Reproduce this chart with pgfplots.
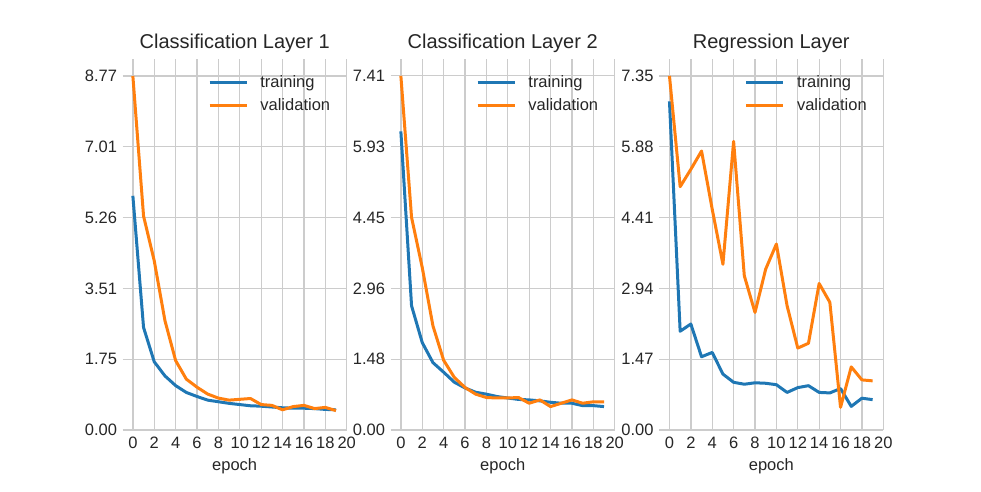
\documentclass[border=0pt]{standalone}
\usepackage{pgfplots}
\pgfplotsset{compat=1.18}
\usepackage{fontspec}
\setmainfont{Liberation Sans}

\definecolor{c0}{HTML}{1F77B4}
\definecolor{c1}{HTML}{FF7F0E}
\definecolor{gridc}{HTML}{CCCCCC}
\definecolor{txt}{HTML}{262626}

\pgfplotsset{
  lossax/.style={
    anchor=south west,
    scale only axis, width=224pt, height=370.7pt,
    xmin=-0.95, xmax=20, ymin=0,
    xtick={0,2,...,20},
    axis line style={draw=none},
    major tick length=0pt,
    grid=major,
    grid style={color=gridc, line width=1.3pt},
    /pgf/number format/assume math mode=true,
    tick label style={font=\fontsize{16.5}{19}\selectfont, color=txt},
    yticklabel style={xshift=-2.2pt},
    xticklabel style={anchor=base, yshift=-18.5pt},
    title style={at={(axis description cs:0.5,1)}, anchor=base, yshift=5pt,
      font=\fontsize{20}{24}\selectfont, color=txt},
    xlabel={epoch},
    xlabel style={at={(axis description cs:0.5,0)}, anchor=base, yshift=-40pt,
      font=\fontsize{16.5}{19}\selectfont, color=txt},
    every axis plot/.append style={line width=3pt, line join=round},
    legend image code/.code={\draw[#1] (0pt,0pt) -- (37pt,0pt);},
    legend cell align=left,
    legend style={draw=none, fill=none, at={(axis description cs:0.367,0.963)},
      anchor=north west, font=\fontsize{16.5}{19}\selectfont, text=txt,
      row sep=7.5pt,
      nodes={inner sep=0pt, text height=12pt, text depth=3.5pt},
      /tikz/every odd column/.style={column sep=12.3pt}},
  }
}

\begin{document}
\begin{tikzpicture}
\path (0pt,0pt) rectangle (981pt,491pt);

\begin{axis}[lossax, at={(122.7pt,61pt)}, ymax=9.181,
  title={Classification Layer 1},
  ytick={0,1.7534,3.5068,5.2602,7.0136,8.767},
  yticklabels={0.00,1.75,3.51,5.26,7.01,8.77}]
\addplot[c0] coordinates {(0,5.80)(1,2.54)(2,1.69)(3,1.34)(4,1.10)(5,0.93)(6,0.83)(7,0.74)(8,0.70)(9,0.66)(10,0.63)(11,0.60)(12,0.59)(13,0.57)(14,0.55)(15,0.54)(16,0.54)(17,0.53)(18,0.51)(19,0.50)};
\addplot[c1] coordinates {(0,8.767)(1,5.30)(2,4.19)(3,2.71)(4,1.72)(5,1.26)(6,1.06)(7,0.89)(8,0.79)(9,0.74)(10,0.76)(11,0.78)(12,0.63)(13,0.61)(14,0.50)(15,0.58)(16,0.61)(17,0.53)(18,0.56)(19,0.48)};
\legend{training,validation}
\end{axis}

\begin{axis}[lossax, at={(390.7pt,61pt)}, ymax=7.758,
  title={Classification Layer 2},
  ytick={0,1.4824,2.9648,4.4472,5.9296,7.412},
  yticklabels={0.00,1.48,2.96,4.45,5.93,7.41}]
\addplot[c0] coordinates {(0,6.25)(1,2.60)(2,1.83)(3,1.41)(4,1.21)(5,1.00)(6,0.88)(7,0.79)(8,0.75)(9,0.70)(10,0.67)(11,0.64)(12,0.63)(13,0.61)(14,0.58)(15,0.56)(16,0.56)(17,0.51)(18,0.51)(19,0.49)};
\addplot[c1] coordinates {(0,7.412)(1,4.45)(2,3.40)(3,2.18)(4,1.46)(5,1.10)(6,0.89)(7,0.75)(8,0.68)(9,0.67)(10,0.67)(11,0.68)(12,0.56)(13,0.63)(14,0.49)(15,0.56)(16,0.63)(17,0.56)(18,0.59)(19,0.59)};
\legend{training,validation}
\end{axis}

\begin{axis}[lossax, at={(659.3pt,61pt)}, ymax=7.694,
  title={Regression Layer},
  ytick={0,1.47,2.94,4.41,5.88,7.35},
  yticklabels={0.00,1.47,2.94,4.41,5.88,7.35}]
\addplot[c0] coordinates {(0,6.82)(1,2.05)(2,2.20)(3,1.52)(4,1.61)(5,1.16)(6,0.99)(7,0.95)(8,0.98)(9,0.97)(10,0.94)(11,0.78)(12,0.88)(13,0.92)(14,0.78)(15,0.77)(16,0.86)(17,0.49)(18,0.66)(19,0.63)};
\addplot[c1] coordinates {(0,7.35)(1,5.05)(2,5.41)(3,5.79)(4,4.58)(5,3.44)(6,5.99)(7,3.20)(8,2.44)(9,3.34)(10,3.86)(11,2.58)(12,1.70)(13,1.80)(14,3.04)(15,2.65)(16,0.47)(17,1.31)(18,1.04)(19,1.02)};
\legend{training,validation}
\end{axis}
\end{tikzpicture}
\end{document}
